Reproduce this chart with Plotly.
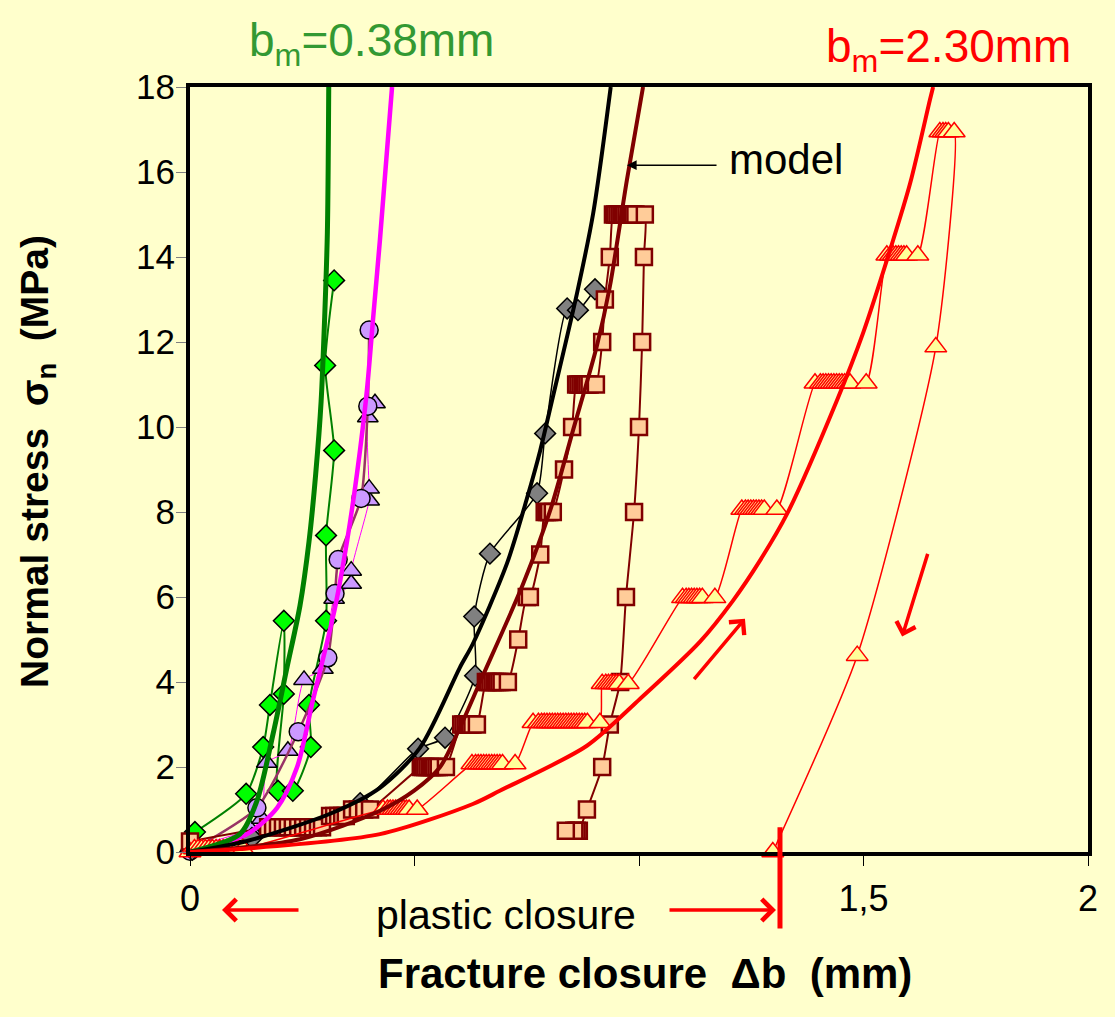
import plotly.graph_objects as go

# ---------------- data ----------------
# b_m = 0.38 mm : green diamonds (experiment) and green model curve
green_exp_x = [0.011, 0.125, 0.163, 0.178, 0.209, 0.209, 0.196, 0.229, 0.269, 0.265,
               0.303, 0.303, 0.321, 0.301, 0.321]
green_exp_y = [0.47, 1.37, 2.47, 3.46, 5.44, 3.72, 1.44, 1.44, 2.47, 3.46,
               5.44, 7.45, 9.45, 11.45, 13.45]
green_mod_x = [0.0, 0.111, 0.149, 0.185, 0.216, 0.245, 0.265, 0.280, 0.292, 0.300, 0.306, 0.309]
green_mod_y = [0.0, 0.42, 1.20, 2.78, 4.34, 5.80, 7.30, 8.90, 10.60, 12.60, 14.60, 18.0]

# purple circles / purple triangles with magenta model curve
circ_x = [0.0, 0.149, 0.241, 0.307, 0.323, 0.330, 0.381, 0.396, 0.399]
circ_y = [0.02, 1.04, 2.83, 4.57, 6.08, 6.88, 8.32, 10.49, 12.28]
ptri_x = [0.0, 0.134, 0.160, 0.171, 0.218, 0.254, 0.296, 0.321, 0.359, 0.359,
          0.399, 0.399, 0.396, 0.412]
ptri_y = [0.10, 0.54, 0.78, 2.10, 2.38, 4.05, 4.31, 5.96, 6.31, 6.62,
          8.27, 8.55, 10.23, 10.56]
mag_mod_x = [0.0, 0.127, 0.194, 0.238, 0.274, 0.323, 0.350, 0.372, 0.394, 0.408, 0.423, 0.450]
mag_mod_y = [0.0, 0.42, 1.04, 1.98, 3.58, 5.75, 7.33, 8.91, 10.86, 12.58, 14.40, 18.0]

# grey diamonds with black model curve
gray_x = [0.005, 0.138, 0.379, 0.508, 0.568, 0.635, 0.633, 0.668, 0.773, 0.791, 0.840, 0.864, 0.902]
gray_y = [0.05, 0.33, 1.15, 2.43, 2.69, 4.15, 5.54, 7.02, 8.44, 9.85, 12.79, 12.75, 13.24]
blk_mod_x = [0.0, 0.127, 0.312, 0.423, 0.512, 0.601, 0.630, 0.706, 0.751, 0.780, 0.808,
             0.862, 0.898, 0.937]
blk_mod_y = [0.0, 0.26, 0.90, 1.51, 2.45, 4.34, 4.90, 6.79, 8.34, 9.45, 10.70,
             13.15, 15.03, 18.0]

# salmon squares (loading with hold steps, then unloading) with dark red model curve
sq_x = [0.000,
        0.174, 0.185, 0.196, 0.207, 0.218, 0.229, 0.241, 0.252, 0.263, 0.274, 0.285, 0.294,
        0.312, 0.321, 0.330, 0.339, 0.347,
        0.361, 0.374, 0.388, 0.401,
        0.514, 0.519, 0.524, 0.529, 0.534, 0.539, 0.544, 0.549, 0.554, 0.570,
        0.604, 0.609, 0.614, 0.619, 0.624, 0.629, 0.639,
        0.659, 0.664, 0.669, 0.674, 0.679, 0.684, 0.689, 0.694, 0.708,
        0.731,
        0.750, 0.757,
        0.780,
        0.790, 0.795, 0.800, 0.808,
        0.833,
        0.851,
        0.860, 0.865, 0.870, 0.875, 0.880, 0.885, 0.890, 0.904,
        0.918,
        0.924,
        0.935,
        0.942, 0.947, 0.952, 0.957, 0.962, 0.967, 0.972, 0.977, 0.982, 0.987, 0.992, 1.013,
        1.011, 1.007, 1.000, 0.989, 0.971, 0.958, 0.935, 0.918, 0.884,
        0.866, 0.861, 0.856, 0.837]
sq_y = [0.25,
        0.58, 0.58, 0.58, 0.58, 0.58, 0.58, 0.58, 0.58, 0.58, 0.58, 0.58, 0.58,
        0.85, 0.85, 0.85, 0.85, 0.85,
        1.0, 1.0, 1.0, 1.0,
        2.0, 2.0, 2.0, 2.0, 2.0, 2.0, 2.0, 2.0, 2.0, 2.0,
        3.0, 3.0, 3.0, 3.0, 3.0, 3.0, 3.0,
        4.0, 4.0, 4.0, 4.0, 4.0, 4.0, 4.0, 4.0, 4.0,
        5.0,
        6.0, 6.0,
        7.0,
        8.0, 8.0, 8.0, 8.0,
        9.0,
        10.0,
        11.0, 11.0, 11.0, 11.0, 11.0, 11.0, 11.0, 11.0,
        12.0,
        13.0,
        14.0,
        15.0, 15.0, 15.0, 15.0, 15.0, 15.0, 15.0, 15.0, 15.0, 15.0, 15.0, 15.0,
        14.0, 12.0, 10.0, 8.0, 6.0, 4.0, 3.0, 2.0, 1.0,
        0.5, 0.5, 0.5, 0.5]
dred_mod_x = [0.0, 0.245, 0.423, 0.500, 0.557, 0.600, 0.646, 0.742, 0.802, 0.853, 0.906,
              0.935, 0.973, 1.009]
dred_mod_y = [0.0, 0.30, 0.97, 1.45, 2.00, 2.90, 4.00, 6.31, 8.03, 9.92, 11.90,
              13.30, 15.81, 18.0]

# b_m = 2.30 mm : yellow triangles (loading with hold steps, then unloading) and red model
rtri_x = [0.0,
          0.010, 0.018, 0.026, 0.034, 0.042, 0.050, 0.058, 0.066, 0.074, 0.082, 0.090, 0.098, 0.106, 0.118,
          0.430, 0.440, 0.446, 0.452, 0.458, 0.464, 0.470, 0.476, 0.482, 0.488, 0.506,
          0.628, 0.636, 0.642, 0.648, 0.654, 0.660, 0.666, 0.672, 0.678, 0.684, 0.690, 0.696, 0.724,
          0.764, 0.776, 0.783, 0.789, 0.795, 0.801, 0.807, 0.813, 0.819, 0.825, 0.831, 0.837,
          0.843, 0.849, 0.855, 0.861, 0.867, 0.873, 0.879, 0.885, 0.913,
          0.918, 0.926, 0.932, 0.938, 0.944, 0.950, 0.956, 0.976,
          1.097, 1.105, 1.111, 1.117, 1.123, 1.129, 1.135, 1.141, 1.169,
          1.229, 1.237, 1.243, 1.249, 1.255, 1.261, 1.267, 1.273, 1.279, 1.307,
          1.392, 1.404, 1.410, 1.416, 1.422, 1.428, 1.434, 1.440, 1.446, 1.452, 1.458, 1.464, 1.470, 1.506,
          1.552, 1.560, 1.566, 1.572, 1.578, 1.584, 1.590, 1.596, 1.621,
          1.670, 1.677, 1.683, 1.689, 1.702,
          1.661, 1.486, 1.298]
rtri_y = [0.0] + [0.07] * 14 + [1.0] * 11 + [2.07] * 13 + [3.04] * 21 + [3.96] * 8 \
         + [5.98] * 9 + [8.06] * 10 + [11.03] * 14 + [14.04] * 9 + [16.94] * 5 \
         + [11.88, 4.62, 0.0]
red_mod_x = [0.0, 0.111, 0.423, 0.630, 0.690, 0.884, 1.002, 1.136, 1.209, 1.269,
             1.330, 1.441, 1.499, 1.559, 1.604, 1.648, 1.655]
red_mod_y = [0.0, 0.07, 0.42, 1.13, 1.44, 2.50, 3.60, 4.95, 5.91, 6.85,
             7.96, 10.63, 12.21, 14.16, 15.74, 17.70, 18.0]

y_ticks = [0, 2, 4, 6, 8, 10, 12, 14, 16, 18]
x_ticks = [0, 0.5, 1, 1.5, 2]
x_tick_text = ["0", "", "", "1,5", "2"]

# plastic-closure limit marked below the axis
plastic_limit = 1.314

# ---------------- styling ----------------
BG = "#FFFFCC"
FONT = "Arial, Liberation Sans, sans-serif"
L, R, T, B = 190, 27, 87, 165
W, H = 1115, 1017
PW, PH = W - L - R, H - T - B


def px_x(px):
    """paper x for a horizontal pixel position"""
    return (px - L) / PW


def px_y(py):
    """paper y for a vertical pixel position"""
    return (H - B - py) / PH


fig = go.Figure()


def exp_trace(x, y, line_color, line_width, symbol, size, fill, edge, edge_w):
    fig.add_trace(go.Scatter(
        x=x, y=y, mode="lines+markers",
        line=dict(color=line_color, width=line_width, shape="spline", smoothing=0.6),
        marker=dict(symbol=symbol, size=size, color=fill,
                    line=dict(color=edge, width=edge_w)),
        cliponaxis=False, showlegend=False, hoverinfo="skip"))


def model_trace(x, y, color, width):
    fig.add_trace(go.Scatter(
        x=x, y=y, mode="lines",
        line=dict(color=color, width=width, shape="spline", smoothing=0.8),
        showlegend=False, hoverinfo="skip"))


exp_trace(green_exp_x, green_exp_y, "#008000", 2, "diamond", 16, "#00FF00", "#000000", 1.5)
exp_trace(ptri_x, ptri_y, "#FF00FF", 1, "triangle-up", 18, "#CC99FF", "#000000", 1.5)
exp_trace(circ_x, circ_y, "#993366", 2.5, "circle", 18, "#CC99FF", "#000000", 1.5)
exp_trace(gray_x, gray_y, "#000000", 1.5, "diamond", 16, "#808080", "#000000", 1.5)
exp_trace(sq_x, sq_y, "#800000", 2, "square", 16, "#FFCC99", "#800000", 2.5)
exp_trace(rtri_x, rtri_y, "#FF0000", 1.5, "triangle-up", 19, "#FFFF99", "#FF0000", 1.5)

model_trace(mag_mod_x, mag_mod_y, "#FF00FF", 4.5)
model_trace(green_mod_x, green_mod_y, "#008000", 5)
model_trace(blk_mod_x, blk_mod_y, "#000000", 4)
model_trace(dred_mod_x, dred_mod_y, "#800000", 4)
model_trace(red_mod_x, red_mod_y, "#FF0000", 4)

red_arrow = dict(text="", showarrow=True, arrowhead=4, arrowsize=1.2,
                 arrowwidth=3.5, arrowcolor="#FF0000", standoff=0)

annotations = [
    # curve labels above the plot
    dict(text="b<sub>m</sub>=0.38mm", x=px_x(371), y=px_y(44), xref="paper", yref="paper",
         xanchor="center", yanchor="middle", showarrow=False,
         font=dict(family=FONT, size=46, color="#339933")),
    dict(text="b<sub>m</sub>=2.30mm", x=px_x(948), y=px_y(50), xref="paper", yref="paper",
         xanchor="center", yanchor="middle", showarrow=False,
         font=dict(family=FONT, size=46, color="#FF0000")),
    # axis titles
    dict(text="<b>Fracture closure\u00a0\u00a0\u0394b\u00a0\u00a0(mm)</b>",
         x=px_x(645), y=px_y(974), xref="paper", yref="paper",
         xanchor="center", yanchor="middle", showarrow=False,
         font=dict(family=FONT, size=42, color="#000000")),
    dict(text="<b>Normal stress\u00a0\u00a0\u03c3<sub>n</sub>\u00a0\u00a0(MPa)</b>",
         x=px_x(37), y=px_y(462), xref="paper", yref="paper",
         xanchor="center", yanchor="middle", showarrow=False, textangle=-90,
         font=dict(family=FONT, size=39, color="#000000")),
    # model pointer
    dict(text="model", x=1.327, y=16.3, xref="x", yref="y", xanchor="center",
         yanchor="middle", showarrow=False,
         font=dict(family=FONT, size=42, color="#000000")),
    dict(text="", x=0.973, y=16.16, ax=1.176, ay=16.16, xref="x", yref="y",
         axref="x", ayref="y", showarrow=True, arrowhead=2, arrowsize=1.3,
         arrowwidth=1.5, arrowcolor="#000000", standoff=0),
    # plastic closure span below the axis
    dict(text="plastic closure", x=px_x(506), y=px_y(915), xref="paper", yref="paper",
         xanchor="center", yanchor="middle", showarrow=False,
         font=dict(family=FONT, size=41, color="#000000")),
    dict(red_arrow, x=px_x(222), y=px_y(910), xref="paper", yref="paper",
         ax=78, ay=0, axref="pixel", ayref="pixel"),
    dict(red_arrow, x=px_x(776), y=px_y(910), xref="paper", yref="paper",
         ax=-108, ay=0, axref="pixel", ayref="pixel"),
    dict(text="", x=plastic_limit, y=-1.80, ax=plastic_limit, ay=0.62, xref="x", yref="y",
         axref="x", ayref="y", showarrow=True, arrowhead=0,
         arrowwidth=5, arrowcolor="#FF0000", standoff=0),
    # loading / unloading direction arrows
    dict(red_arrow, x=1.236, y=5.49, ax=1.120, ay=4.03, xref="x", yref="y",
         axref="x", ayref="y", arrowsize=1.1),
    dict(red_arrow, x=1.586, y=5.07, ax=1.644, ay=7.05, xref="x", yref="y",
         axref="x", ayref="y", arrowsize=1.1),
]

fig.update_layout(
    width=W, height=H,
    margin=dict(l=L, r=R, t=T, b=B),
    paper_bgcolor=BG, plot_bgcolor=BG,
    font=dict(family=FONT, color="#000000"),
    annotations=annotations,
    xaxis=dict(range=[0, 2], tickvals=x_ticks, ticktext=x_tick_text,
               showgrid=False, zeroline=False,
               showline=True, linecolor="#000000", linewidth=4, mirror=True,
               ticks="outside", ticklen=10, tickwidth=1, tickcolor="#000000",
               tickfont=dict(family=FONT, size=36, color="#000000"),
               ticklabelstandoff=2),
    yaxis=dict(range=[0, 18], tickvals=y_ticks,
               showgrid=False, zeroline=False,
               showline=True, linecolor="#000000", linewidth=4, mirror=True,
               ticks="outside", ticklen=10, tickwidth=1, tickcolor="#808080",
               tickfont=dict(family=FONT, size=35, color="#000000"),
               ticklabelstandoff=-6),
)

fig.write_html("out.html")
